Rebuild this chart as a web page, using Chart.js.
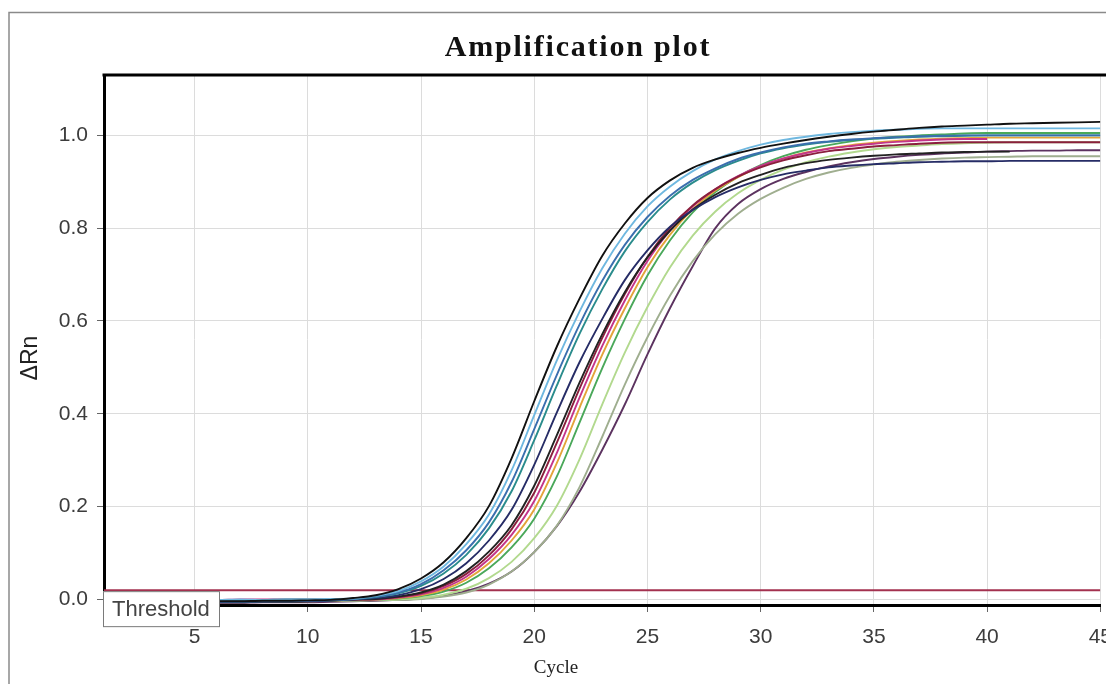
<!DOCTYPE html>
<html>
<head>
<meta charset="utf-8">
<title>Amplification plot</title>
<script src="https://cdn.jsdelivr.net/npm/chart.js@4.4.1/dist/chart.umd.min.js"></script>
<style>
  html, body { margin: 0; padding: 0; background: #fff; overflow: hidden; }
  .wrap { width: 1106px; height: 684px; overflow: hidden; }
</style>
</head>
<body>
<div class="wrap"><canvas id="ampChart" width="1125" height="684"></canvas></div>
<script>
// cycles 1..45
const cycles = [1,2,3,4,5,6,7,8,9,10,11,12,13,14,15,16,17,18,19,20,21,22,23,24,25,26,27,28,29,30,31,32,33,34,35,36,37,38,39,40,41,42,43,44,45];

const xTicks = [5, 10, 15, 20, 25, 30, 35, 40, 45];
const yTicks = [0, 0.2, 0.4, 0.6, 0.8, 1.0];

const thresholdCycles = [1, 45];
const thresholdValue = 0.02;

// delta Rn per well
const wellBlack = [-0.005,-0.006,-0.005,-0.005,-0.004,-0.004,-0.004,-0.003,-0.003,-0.002,-0.001,
  0.003,0.009,0.022,0.045,0.080,0.132,0.201,0.304,0.427,0.545,0.648,0.740,0.810,0.865,0.903,0.930,0.948,0.962,0.973,0.982,0.990,0.997,1.003,1.008,1.012,1.016,1.019,1.021,1.023,1.025,1.026,1.027,1.028,1.029];
const wellLightBlue = [-0.002,-0.002,-0.001,-0.002,-0.001,-0.001,0.000,-0.001,0.000,0.000,0.001,
  0.002,0.008,0.018,0.039,0.071,0.119,0.183,0.278,0.397,0.515,0.620,0.713,0.788,0.847,0.890,0.923,0.948,0.966,0.980,0.990,0.997,1.003,1.007,1.010,1.012,1.014,1.015,1.015,1.015,1.015,1.015,1.015,1.015,1.015];
const wellSteel = [-0.007,-0.007,-0.006,-0.006,-0.006,-0.005,-0.005,-0.004,-0.004,-0.003,-0.002,
  0.001,0.006,0.015,0.033,0.063,0.106,0.166,0.253,0.367,0.484,0.592,0.686,0.764,0.824,0.870,0.904,0.929,0.949,0.963,0.974,0.982,0.987,0.991,0.994,0.996,0.998,0.999,1.000,1.000,1.000,1.000,1.000,1.000,1.000];
const wellTeal = [-0.003,-0.003,-0.002,-0.002,-0.002,-0.001,-0.001,-0.001,0.000,0.000,0.000,
  0.001,0.005,0.013,0.029,0.056,0.096,0.153,0.233,0.343,0.461,0.572,0.668,0.750,0.813,0.862,0.898,0.925,0.945,0.961,0.972,0.980,0.986,0.990,0.993,0.995,0.997,0.998,0.999,1.000,1.000,1.000,1.000,1.000,1.000];
const wellNavy = [-0.006,-0.006,-0.006,-0.005,-0.005,-0.005,-0.004,-0.004,-0.003,-0.003,-0.002,
  0.000,0.003,0.009,0.022,0.044,0.078,0.127,0.193,0.290,0.403,0.511,0.604,0.688,0.752,0.803,0.839,0.867,0.888,0.904,0.916,0.924,0.931,0.935,0.938,0.940,0.942,0.943,0.944,0.944,0.945,0.945,0.945,0.945,0.945];
const wellDark = [-0.008,-0.008,-0.007,-0.007,-0.007,-0.006,-0.006,-0.005,-0.005,-0.004,-0.003,
  0.000,0.001,0.006,0.015,0.032,0.061,0.103,0.160,0.245,0.354,0.467,0.571,0.662,0.737,0.795,0.840,0.872,0.897,0.915,0.930,0.940,0.947,0.952,0.956,0.959,0.961,0.963,0.964,0.965,0.965,null,null,null,null];
const wellMaroon = [-0.004,-0.004,-0.004,-0.003,-0.003,-0.003,-0.003,-0.002,-0.002,-0.002,-0.001,
  0.000,0.001,0.005,0.013,0.029,0.055,0.095,0.151,0.230,0.338,0.454,0.563,0.658,0.738,0.801,0.849,0.884,0.911,0.931,0.946,0.957,0.966,0.971,0.976,0.979,0.982,0.984,0.985,0.985,0.985,0.985,0.985,0.985,0.985];
const wellMagenta = [-0.002,-0.002,-0.002,-0.001,-0.001,-0.001,0.000,0.000,0.000,0.000,0.000,
  0.000,0.000,0.004,0.011,0.025,0.049,0.087,0.139,0.212,0.316,0.435,0.546,0.644,0.729,0.795,0.847,0.884,0.912,0.934,0.950,0.962,0.971,0.977,0.982,0.986,0.989,0.991,0.992,0.992,null,null,null,null,null];
const wellOrange = [-0.005,-0.005,-0.005,-0.004,-0.004,-0.004,-0.003,-0.003,-0.003,-0.002,-0.002,
  -0.001,0.000,0.003,0.009,0.021,0.043,0.078,0.127,0.194,0.294,0.413,0.527,0.627,0.716,0.786,0.841,0.881,0.910,0.933,0.950,0.963,0.972,0.979,0.984,0.988,0.991,0.993,0.994,0.995,0.995,0.995,0.995,0.995,0.995];
const wellGreen = [-0.003,-0.003,-0.003,-0.003,-0.002,-0.002,-0.002,-0.002,-0.001,-0.001,-0.001,
  -0.001,0.000,0.002,0.007,0.017,0.036,0.067,0.112,0.174,0.265,0.381,0.498,0.604,0.698,0.774,0.834,0.878,0.911,0.936,0.955,0.969,0.979,0.987,0.993,0.997,1.000,1.002,1.004,1.005,1.005,1.005,1.005,1.005,1.005];
const wellLightGreen = [-0.004,-0.004,-0.004,-0.004,-0.003,-0.003,-0.003,-0.003,-0.002,-0.002,-0.002,
  -0.002,-0.001,0.000,0.003,0.010,0.023,0.046,0.081,0.132,0.202,0.302,0.420,0.532,0.630,0.716,0.784,0.836,0.875,0.904,0.926,0.942,0.954,0.963,0.970,0.975,0.978,0.981,0.983,0.984,0.985,0.985,0.985,0.985,0.985];
const wellGrey = [-0.006,-0.006,-0.006,-0.005,-0.005,-0.005,-0.005,-0.004,-0.004,-0.004,-0.003,
  -0.003,-0.002,-0.001,0.001,0.006,0.015,0.032,0.060,0.102,0.159,0.242,0.350,0.463,0.565,0.655,0.729,0.787,0.831,0.863,0.887,0.906,0.920,0.930,0.937,0.943,0.947,0.950,0.952,0.953,0.954,0.955,0.955,0.955,0.955];
const wellPurple = [-0.008,-0.008,-0.008,-0.007,-0.007,-0.007,-0.007,-0.006,-0.006,-0.006,-0.005,
  -0.004,-0.003,-0.001,0.002,0.008,0.018,0.034,0.060,0.102,0.158,0.232,0.322,0.420,0.528,0.628,0.718,0.800,0.852,0.884,0.906,0.921,0.933,0.942,0.949,0.954,0.958,0.961,0.963,0.965,0.966,0.967,0.967,0.968,0.968];

const wells = [wellBlack, wellLightBlue, wellSteel, wellTeal, wellNavy, wellDark, wellMaroon,
  wellMagenta, wellOrange, wellGreen, wellLightGreen, wellGrey, wellPurple];
const wellColors = ['#111111', '#6fb8e0', '#3b6fae', '#2a8c8c', '#262c66', '#222222', '#8a1f3d',
  '#c4358a', '#e3a43a', '#4aa85a', '#b2d98e', '#9fae8f', '#5c3360'];

// frame, top edge, threshold tag and the texts
const plotDecor = {
  id: 'plotDecor',
  afterDraw(chart) {
    const { ctx, chartArea, scales } = chart;
    ctx.save();

    ctx.strokeStyle = '#8a8a8a';
    ctx.lineWidth = 1.5;
    ctx.beginPath();
    ctx.moveTo(9, chart.height);
    ctx.lineTo(9, 12.5);
    ctx.lineTo(chart.width, 12.5);
    ctx.stroke();

    ctx.strokeStyle = '#000';
    ctx.lineWidth = 3;
    ctx.beginPath();
    ctx.moveTo(chartArea.left - 1.5, chartArea.top);
    ctx.lineTo(chart.width, chartArea.top);
    ctx.stroke();

    // Threshold tag sits just under the line
    const ty = scales.y.getPixelForValue(thresholdValue);
    const bx = chartArea.left - 1;
    ctx.fillStyle = '#fff';
    ctx.fillRect(bx, ty + 1, 117, 36);
    ctx.strokeStyle = '#7a7a7a';
    ctx.lineWidth = 1;
    ctx.strokeRect(bx + 0.5, ty + 1.5, 116, 35);
    ctx.fillStyle = '#444';
    ctx.font = '22px "Liberation Sans"';
    ctx.textAlign = 'left';
    ctx.textBaseline = 'middle';
    ctx.fillText('Threshold', bx + 9, ty + 20);

    ctx.fillStyle = '#111';
    ctx.textAlign = 'center';
    ctx.font = 'bold 30px "Liberation Serif"';
    ctx.letterSpacing = '1.8px';
    ctx.fillText('Amplification plot', 578, 48);
    ctx.letterSpacing = '0px';
    ctx.font = '19px "Liberation Serif"';
    ctx.fillStyle = '#222';
    ctx.fillText('Cycle', 556, 668);

    // y title
    ctx.save();
    ctx.translate(31, 358);
    ctx.rotate(-Math.PI / 2);
    ctx.font = '23px "Liberation Sans"';
    ctx.fillText('ΔRn', 0, 0);
    ctx.restore();

    ctx.restore();
  }
};

const datasets = wells.map((vals, i) => ({
  data: vals.map((v, j) => ({ x: cycles[j], y: v })),
  borderColor: wellColors[i],
  borderWidth: 1.9,
  pointRadius: 0,
  cubicInterpolationMode: 'monotone',
  spanGaps: false
}));

datasets.push({
  data: thresholdCycles.map(c => ({ x: c, y: thresholdValue })),
  borderColor: '#a3314f',
  borderWidth: 2,
  pointRadius: 0
});

new Chart(document.getElementById('ampChart'), {
  type: 'line',
  data: { datasets: datasets },
  options: {
    responsive: false,
    devicePixelRatio: 1,
    animation: false,
    layout: { padding: { top: 75, right: 0, left: 0, bottom: 0 } },
    plugins: {
      legend: { display: false },
      tooltip: { enabled: false }
    },
    scales: {
      x: {
        type: 'linear',
        min: 1,
        max: 45,
        afterBuildTicks: (axis) => { axis.ticks = xTicks.map(v => ({ value: v })); },
        afterFit: (axis) => { axis.height = 79; },
        grid: { color: '#dcdcdc', lineWidth: 1, tickLength: 7, tickColor: '#666' },
        border: { color: '#000', width: 3 },
        ticks: {
          color: '#3c3c3c',
          font: { family: 'Liberation Sans', size: 21 },
          padding: 13,
          maxRotation: 0,
          autoSkip: false
        }
      },
      y: {
        min: -0.012,
        max: 1.13,
        afterBuildTicks: (axis) => { axis.ticks = yTicks.map(v => ({ value: v })); },
        afterFit: (axis) => { axis.width = 104; },
        grid: { color: '#dcdcdc', lineWidth: 1, tickLength: 7, tickColor: '#666' },
        border: { color: '#000', width: 3 },
        ticks: {
          color: '#3c3c3c',
          font: { family: 'Liberation Sans', size: 21 },
          padding: 9,
          callback: (v) => v.toFixed(1)
        }
      }
    }
  },
  plugins: [plotDecor]
});
</script>
</body>
</html>
